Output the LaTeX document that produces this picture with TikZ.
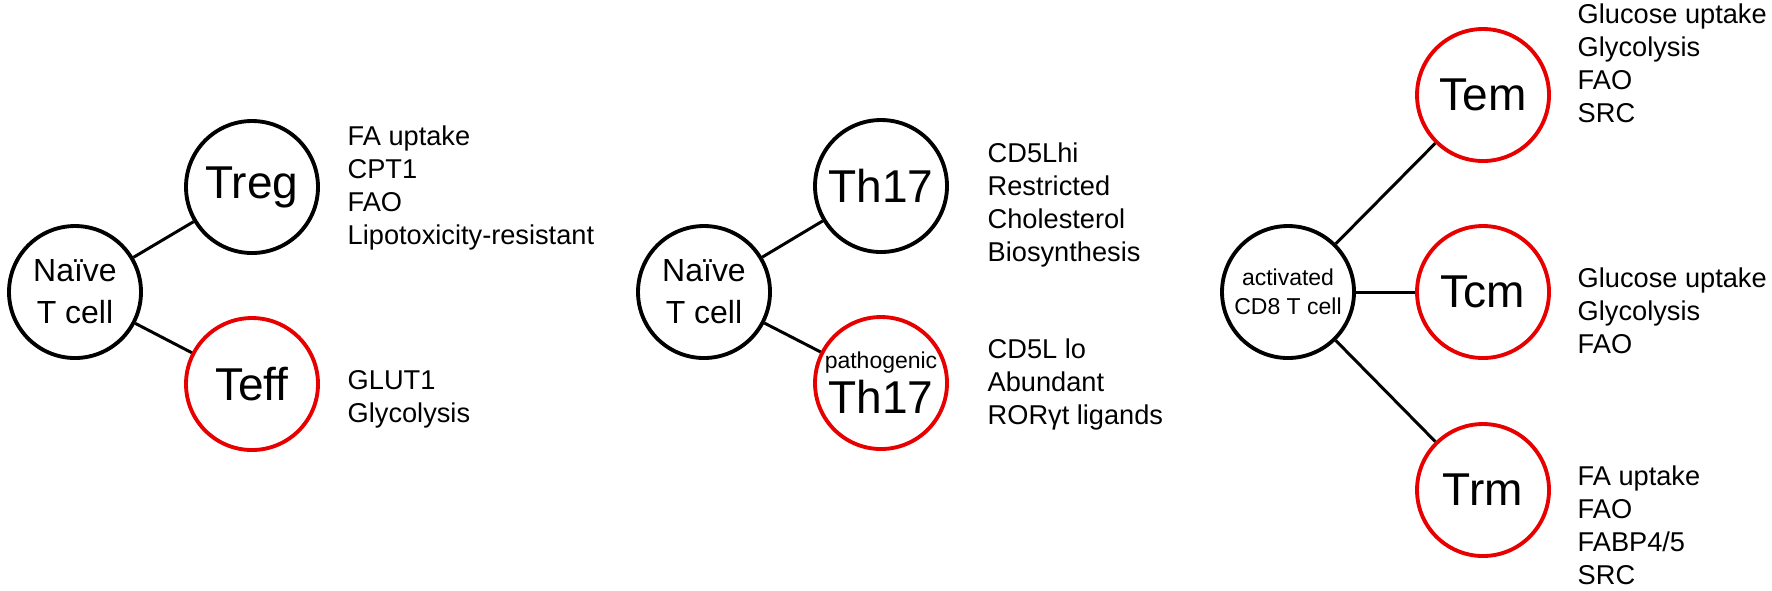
\documentclass[tikz,border=0pt]{standalone}
\usepackage{fontspec}
\setmainfont{Liberation Sans}
\usetikzlibrary{positioning}
\definecolor{effred}{RGB}{232,0,0}

\begin{document}
\begin{tikzpicture}[
  x=0.1mm, y=-0.1mm,
  cell/.style  = {draw, circle, line width=1.1pt, minimum size=13.2mm,
                  inner sep=0pt, align=center,
                  font=\fontsize{13.1pt}{12.8pt}\selectfont},
  rest/.style  = {cell, draw=black},
  eff/.style   = {cell, draw=effred},
  naive/.style = {rest, font=\fontsize{9.1pt}{11.95pt}\selectfont},
  act/.style   = {rest, font=\fontsize{6.54pt}{8.25pt}\selectfont},
  link/.style  = {line width=0.85pt},
  info/.style  = {anchor=north west, inner sep=0pt, align=left,
                  font=\fontsize{7.74pt}{9.39pt}\selectfont},
]
\useasboundingbox (0,0) rectangle (1772,590);
\node[naive] (naiveA) at (75,292)  {Naïve\\T cell};
\node[rest]  (treg)   at (252,187) {Treg};
\node[eff]   (teff)   at (252,384) {Teff};
\node[naive] (naiveB) at (704,292) {Naïve\\T cell};
\node[rest]  (th17)   at (881,186) {Th17};
\node[eff]   (pth17)  at (881,383) {{\fontsize{6.54pt}{8pt}\selectfont pathogenic}\\Th17};
\node[act]   (cd8)    at (1288,292) {activated\\CD8 T cell};
\node[eff]   (tem)    at (1483,95)  {Tem};
\node[eff]   (tcm)    at (1483,292) {Tcm};
\node[eff]   (trm)    at (1483,490) {Trm};
\node[info]  (tregInfo)  at (347,125)  {FA uptake\\CPT1\\FAO\\Lipotoxicity-resistant};
\node[info]  (teffInfo)  at (347,370)  {GLUT1\\Glycolysis};
\node[info]  (th17Info)  at (987,142)  {CD5Lhi\\Restricted\\Cholesterol\\Biosynthesis};
\node[info]  (pth17Info) at (987,338)  {CD5L lo\\Abundant\\RORγt ligands};
\node[info]  (temInfo)   at (1577,3)   {Glucose uptake\\Glycolysis\\FAO\\SRC};
\node[info]  (tcmInfo)   at (1577,267) {Glucose uptake\\Glycolysis\\FAO};
\node[info]  (trmInfo)   at (1577,465) {FA uptake\\FAO\\FABP4/5\\SRC};
\draw[link] (naiveA) -- (treg);
\draw[link] (naiveA) -- (teff);
\draw[link] (naiveB) -- (th17);
\draw[link] (naiveB) -- (pth17);
\draw[link] (cd8) -- (tem);
\draw[link] (cd8) -- (tcm);
\draw[link] (cd8) -- (trm);
\end{tikzpicture}
\end{document}
